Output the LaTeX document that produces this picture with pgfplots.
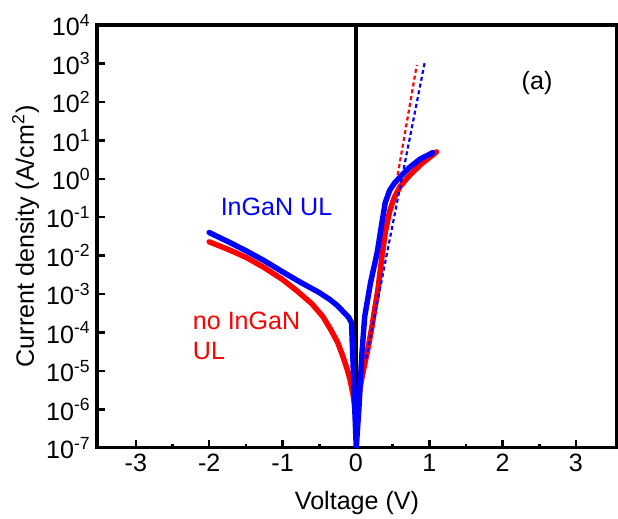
\documentclass[border=0pt]{standalone}
\usepackage{fontspec}
\setmainfont{Liberation Sans}
\usepackage{pgfplots}
\pgfplotsset{compat=1.18}
\definecolor{pblue}{RGB}{0,0,255}
\definecolor{pred}{RGB}{255,0,0}

% J-V data, forward and reverse (A/cm^2)
\pgfplotstableread{
V J
-2.00 2.29e-2
-1.75 1.48e-2
-1.50 9.1e-3
-1.25 4.9e-3
-1.00 2.4e-3
-0.80 1.2e-3
-0.60 5.6e-4
-0.45 2.6e-4
-0.35 1.26e-4
-0.25 5.6e-5
-0.18 2.5e-5
-0.12 1.12e-5
-0.08 6.0e-6
-0.04 2.5e-6
-0.01 1.0e-6
0.02 1.0e-6
0.06 4.0e-6
0.10 1.0e-5
0.16 3.5e-5
0.22 1.45e-4
0.26 4.5e-4
0.30 1.3e-3
0.35 7.9e-3
0.40 4.0e-2
0.46 0.141
0.52 0.316
0.60 0.62
0.70 1.05
0.78 1.51
0.90 2.5
1.00 3.55
1.10 5.0
}\noul
\pgfplotstableread{
V J
-2.00 4.0e-2
-1.75 2.35e-2
-1.50 1.35e-2
-1.25 7.4e-3
-1.00 3.8e-3
-0.75 2.0e-3
-0.50 1.1e-3
-0.35 7.1e-4
-0.25 5.0e-4
-0.16 3.3e-4
-0.10 2.5e-4
-0.06 1.8e-4
0.005 1e-7
0.04 1.0e-6
0.08 2.5e-5
0.12 2.6e-4
0.20 2.0e-3
0.29 1.2e-2
0.35 6.3e-2
0.40 0.24
0.46 0.50
0.53 0.79
0.63 1.26
0.74 2.04
0.88 3.3
1.05 4.8
}\withul

\begin{document}
\begin{tikzpicture}
\begin{axis}[name=ax,
  scale only axis, width=286pt, height=232.6pt,
  ymode=log, xmin=-3.53, xmax=3.56, ymin=1e-7, ymax=1e4,
  axis line style={line width=1.7pt},
  tick align=inside, xtick pos=left, ytick pos=left,
  major tick length=4.4pt, minor tick length=2.4pt,
  every tick/.style={black, line width=1.4pt},
  xtick={-3,...,3}, xticklabels={-3,-2,-1,0,1,2,3},
  minor xtick={-2.5,-1.5,-0.5,0.5,1.5,2.5},
  ytick={1e-7,1e-6,1e-5,1e-4,1e-3,1e-2,1e-1,1e0,1e1,1e2,1e3,1e4},
  yticklabels={10\textsuperscript{-7},10\textsuperscript{-6},10\textsuperscript{-5},10\textsuperscript{-4},10\textsuperscript{-3},10\textsuperscript{-2},10\textsuperscript{-1},10\textsuperscript{0},10\textsuperscript{1},10\textsuperscript{2},10\textsuperscript{3},10\textsuperscript{4}},
  yminorticks=false,
  tick label style={font=\fontsize{13.8}{15}\selectfont},
  label style={font=\fontsize{13.8}{15}\selectfont},
  xlabel={Voltage (V)}, ylabel={Current density (A/cm\textsuperscript{2})},
  xlabel style={yshift=-3.5pt},
  ylabel style={yshift=-3pt},
]
\addplot[black, line width=1.8pt] coordinates {(0,1e-7) (0,1e4)};
\addplot[pred, line width=3pt, line cap=round, line join=round] table[x=V, y=J] {\noul};
\addplot[pblue, line width=3pt, line cap=round, line join=round] table[x=V, y=J] {\withul};
\addplot[pred, line width=1.2pt, dash pattern=on 2.2pt off 1.6pt] coordinates {(0.57,1.26) (0.83,912)};
\addplot[pblue, line width=1.2pt, dash pattern=on 2.2pt off 1.6pt] coordinates {(0.14,2.1e-5) (0.94,1.1e3)};
\node[pblue, anchor=west, font=\fontsize{13.8}{15}\selectfont] at (axis cs:-1.93,0.19) {InGaN UL};
\node[pred, anchor=west, align=left, font=\fontsize{13.8}{16.5}\selectfont] at (axis cs:-2.31,8e-5) {no InGaN\\UL};
\node[font=\fontsize{13.8}{15}\selectfont] at (axis cs:2.47,310) {(a)};
\end{axis}
\pgfresetboundingbox
\path ([shift={(-53.35pt,-39pt)}]ax.south west) rectangle ([shift={(0.55pt,13.75pt)}]ax.north east);
\end{tikzpicture}
\end{document}
